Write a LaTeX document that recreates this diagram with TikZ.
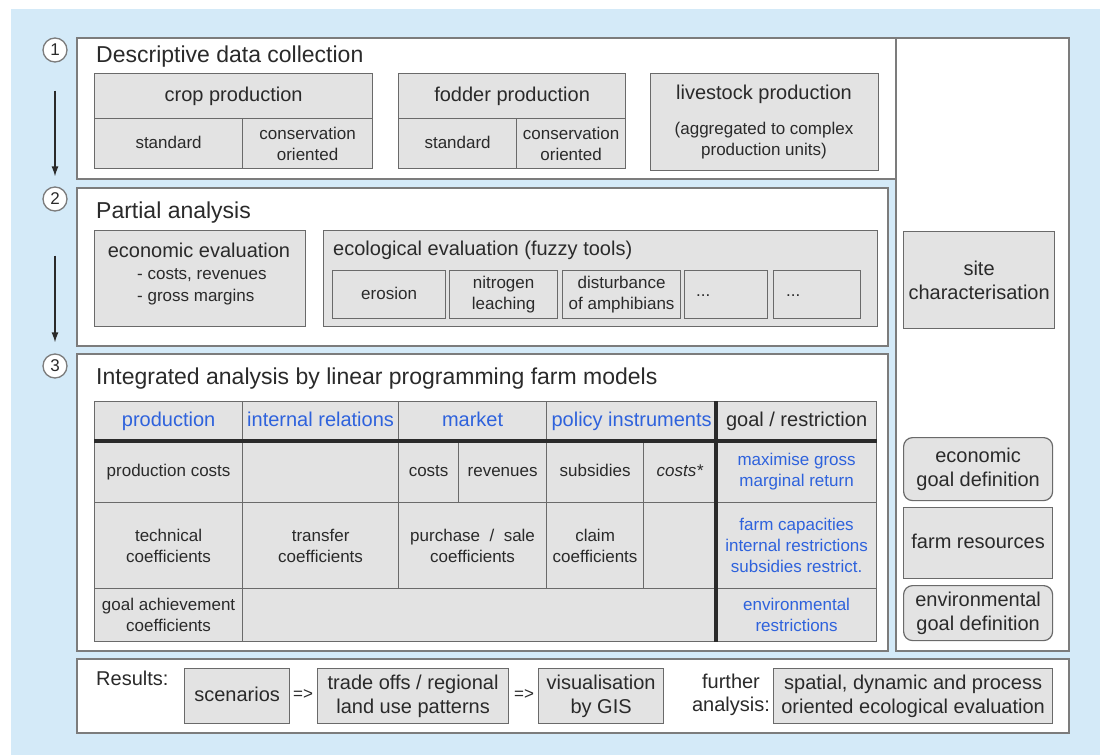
\documentclass[tikz,border=0pt]{standalone}
\usepackage{fontspec}
\setmainfont{Liberation Sans}
\usetikzlibrary{arrows.meta,positioning}

\definecolor{bgblue}{HTML}{D4EAF8}
\definecolor{boxgray}{HTML}{E3E3E3}
\definecolor{framegray}{HTML}{7C7C7C}
\definecolor{cellline}{HTML}{6A6A6A}
\definecolor{bluetext}{HTML}{2E62DC}
\definecolor{inktext}{HTML}{2A2A2A}

\tikzset{
  panel/.style={draw=framegray, line width=1.6pt, fill=white, anchor=north west, inner sep=0pt},
  cell/.style={draw=cellline, line width=1.2pt, fill=boxgray, anchor=north west, inner sep=0pt,
    align=center, text=inktext, font=\fontsize{17}{21}\selectfont},
  bigcell/.style={cell, font=\fontsize{20}{24}\selectfont},
  roundcell/.style={bigcell, rounded corners=9pt},
  oneline/.style={text height=12.4pt, text depth=3.6pt},
  bigline/.style={text height=14.6pt, text depth=4.2pt},
  title/.style={anchor=west, inner sep=0pt, text=inktext, font=\fontsize{23}{26}\selectfont},
  label/.style={inner sep=0pt, text=inktext, font=\fontsize{20}{24}\selectfont},
  small/.style={inner sep=0pt, text=inktext, font=\fontsize{17}{22}\selectfont},
  blue/.style={text=bluetext},
  stepno/.style={circle, draw=framegray, line width=1.3pt, fill=white, inner sep=0pt,
    minimum size=24pt, text=inktext, font=\fontsize{17}{17}\selectfont},
  flow/.style={-{Latex[length=10pt,width=7pt]}, line width=1.3pt, draw=inktext},
  rule/.style={line width=3.5pt, draw=inktext},
}

\begin{document}
\begin{tikzpicture}[x=1pt,y=-1pt]
  \useasboundingbox (0,0) rectangle (1103,755);
  \fill[white] (0,0) rectangle (1103,755);
  \fill[bgblue] (11,9) rectangle (1100,755);

  % panels
  \node[panel, minimum width=819, minimum height=141] (desc) at (76,37) {};
  \node[panel, minimum width=173, minimum height=613] (side) at (895,37) {};
  \node[panel, minimum width=811, minimum height=158] (partial) at (76,187) {};
  \node[panel, minimum width=811, minimum height=297] (integr) at (76,353) {};
  \node[panel, minimum width=992, minimum height=74] (results) at (76,658) {};

  % steps
  \node[stepno] (one) at (55,50) {1};
  \node[stepno] (two) at (55,199) {2};
  \node[stepno] (three) at (55,366) {3};
  \draw[flow, shorten <=28pt, shorten >=10pt] (one) -- (two);
  \draw[flow, shorten <=44pt, shorten >=11pt] (two) -- (three);

  % 1: descriptive data collection
  \node[title] (desctitle) at (96,57) {Descriptive data collection};
  \node[bigcell, bigline, minimum width=278, minimum height=45] (crop) at (94,73) {crop production};
  \node[cell, oneline, minimum width=148, minimum height=50] (cropstd) at (94,118) {standard};
  \node[cell, minimum width=130, minimum height=50] (cropcons) at (242,118) {conservation\\oriented};
  \node[bigcell, bigline, minimum width=227, minimum height=45] (fodder) at (398,73) {fodder production};
  \node[cell, oneline, minimum width=118, minimum height=50] (fodderstd) at (398,118) {standard};
  \node[cell, minimum width=109, minimum height=50] (foddercons) at (516,118) {conservation\\oriented};
  \node[cell, minimum width=228, minimum height=97] (live) at (650,73) {};
  \node[label] (livetitle) at (764,94) {livestock production};
  \node[small, align=center, font=\fontsize{17}{21}\selectfont] (livenote) at (764,141) {(aggregated to complex\\production units)};

  % 2: partial analysis
  \node[title] (parttitle) at (96,213) {Partial analysis};
  \node[cell, minimum width=211, minimum height=96] (econ) at (94,230) {};
  \node[label] (econtitle) at (199,250) {economic evaluation};
  \node[small, align=left, anchor=west] (econlist) at (137,287) {- costs, revenues\\- gross margins};
  \node[cell, minimum width=554, minimum height=96] (ecol) at (323,230) {};
  \node[label, anchor=west] (ecoltitle) at (333,250) {ecological evaluation (fuzzy tools)};
  \node[cell, oneline, minimum width=113, minimum height=48] (erosion) at (332,270) {erosion};
  \node[cell, minimum width=108, minimum height=48] (nitrogen) at (449,270) {nitrogen\\leaching};
  \node[cell, minimum width=118, minimum height=48] (amphib) at (562,270) {disturbance\\of amphibians};
  \node[cell, minimum width=83, minimum height=48] (more) at (684,270) {};
  \node[cell, minimum width=87, minimum height=48] (evenmore) at (773,270) {};
  \node[small, anchor=west] (moredots) at (696,296) {...};
  \node[small, anchor=west] (evenmoredots) at (786,296) {...};

  % side column
  \node[bigcell, minimum width=151, minimum height=97] (site) at (903,231) {site\\characterisation};
  \node[roundcell, minimum width=149, minimum height=63] (econgoal) at (903,437) {economic\\goal definition};
  \node[bigcell, bigline, minimum width=149, minimum height=71] (farmres) at (903,507) {farm resources};
  \node[roundcell, minimum width=149, minimum height=55] (envgoal) at (903,585) {environmental\\goal definition};

  % 3: integrated analysis
  \node[title] (inttitle) at (96,379) {Integrated analysis by linear programming farm models};
  % header row
  \node[bigcell, bigline, blue, minimum width=148, minimum height=39] (hprod) at (94,401) {production};
  \node[bigcell, bigline, blue, minimum width=156, minimum height=39] (hint) at (242,401) {internal relations};
  \node[bigcell, bigline, blue, minimum width=148, minimum height=39] (hmarket) at (398,401) {market};
  \node[bigcell, bigline, blue, minimum width=170, minimum height=39] (hpolicy) at (546,401) {policy instruments};
  \node[bigcell, bigline, minimum width=160, minimum height=39] (hgoal) at (716,401) {goal / restriction};
  % row 1
  \node[cell, oneline, minimum width=148, minimum height=62] (prodcost) at (94,440) {production costs};
  \node[cell, minimum width=156, minimum height=62] (intcost) at (242,440) {};
  \node[cell, oneline, minimum width=60, minimum height=62] (mcost) at (398,440) {costs};
  \node[cell, oneline, minimum width=88, minimum height=62] (mrev) at (458,440) {revenues};
  \node[cell, oneline, minimum width=97, minimum height=62] (subs) at (546,440) {subsidies};
  \node[cell, oneline, minimum width=73, minimum height=62] (pcost) at (643,440) {\textit{costs*}};
  \node[cell, blue, minimum width=160, minimum height=62] (maxgm) at (716,440) {maximise gross\\marginal return};
  % row 2
  \node[cell, minimum width=148, minimum height=86] (techco) at (94,502) {technical\\coefficients};
  \node[cell, minimum width=156, minimum height=86] (transco) at (242,502) {transfer\\coefficients};
  \node[cell, minimum width=148, minimum height=86] (saleco) at (398,502) {purchase \ / \ sale\\coefficients};
  \node[cell, minimum width=97, minimum height=86] (claimco) at (546,502) {claim\\coefficients};
  \node[cell, minimum width=73, minimum height=86] (pempty) at (643,502) {};
  \node[cell, blue, minimum width=160, minimum height=86] (capac) at (716,502) {farm capacities\\internal restrictions\\subsidies restrict.};
  % row 3
  \node[cell, minimum width=148, minimum height=53] (goalco) at (94,588) {goal achievement\\coefficients};
  \node[cell, minimum width=474, minimum height=53] (restempty) at (242,588) {};
  \node[cell, blue, minimum width=160, minimum height=53] (envrest) at (716,588) {environmental\\restrictions};
  % heavy rules
  \draw[rule] (hprod.south west) -- (hgoal.south east);
  \draw[rule] (hgoal.north west) -- (envrest.south west);

  % results
  \node[label, anchor=west] (restitle) at (96,678) {Results:};
  \node[bigcell, bigline, minimum width=105, minimum height=55] (scen) at (184,668) {scenarios};
  \node[small] (then1) at (303,695) {=>};
  \node[bigcell, minimum width=191, minimum height=55] (trade) at (317,668) {trade offs / regional\\land use patterns};
  \node[small] (then2) at (524,695) {=>};
  \node[bigcell, minimum width=125, minimum height=55] (gis) at (538,668) {visualisation\\by GIS};
  \node[label, align=center, font=\fontsize{20}{23}\selectfont] (further) at (731,695) {further\\analysis:};
  \node[bigcell, minimum width=279, minimum height=55] (spatial) at (773,668) {spatial, dynamic and process\\oriented ecological evaluation};
\end{tikzpicture}
\end{document}
